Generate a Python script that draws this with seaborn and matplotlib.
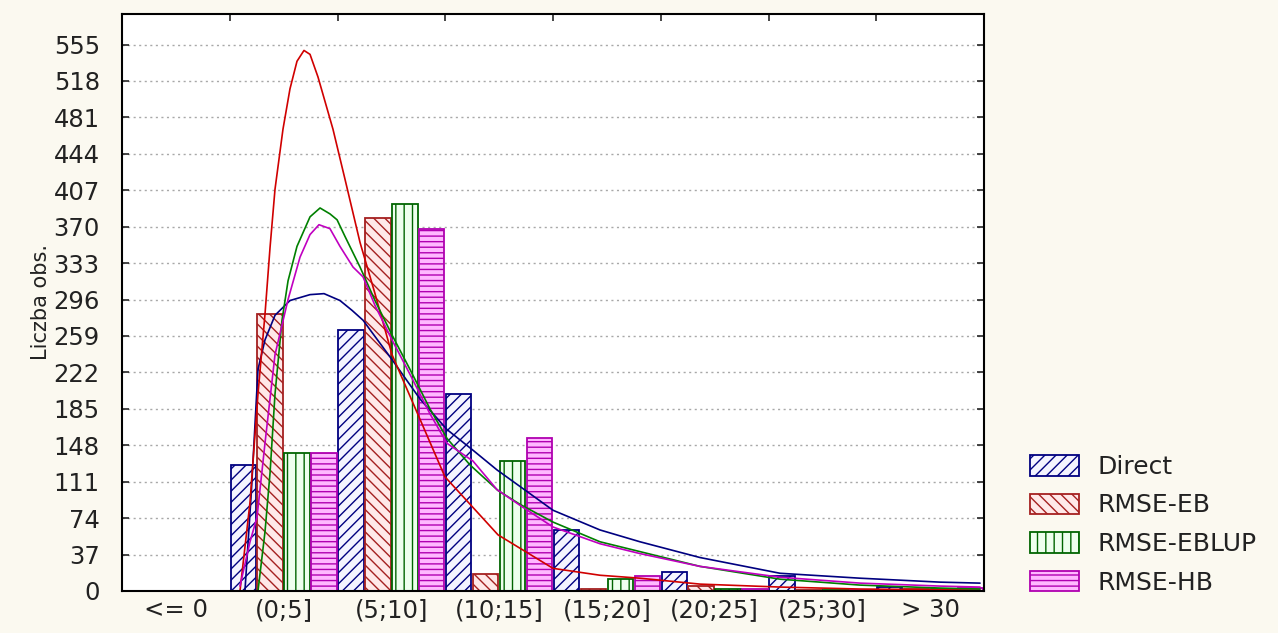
import numpy as np
import pandas as pd
import matplotlib
matplotlib.use("Agg")
import matplotlib.pyplot as plt
import seaborn as sns
from matplotlib.patches import Patch

categories = ["<= 0", "(0;5]", "(5;10]", "(10;15]", "(15;20]", "(20;25]", "(25;30]", "> 30"]
series = ["Direct", "RMSE-EB", "RMSE-EBLUP", "RMSE-HB"]
direct = [0, 128, 265, 200, 62, 19, 15, 4]
eb = [0, 281, 379, 17, 2, 5, 1, 2]
eblup = [0, 140, 393, 132, 12, 2, 1, 2]
hb = [0, 140, 368, 155, 15, 2, 1, 3]

y_ticks = [0, 37, 74, 111, 148, 185, 222, 259, 296, 333, 370, 407, 444, 481, 518, 555]

# fitted curves (x in category units, y in counts)
curve_x_direct = [0.641, 0.70, 0.762, 0.827, 0.920, 1.059, 1.245, 1.375, 1.523, 1.635, 1.737, 2.006, 2.266, 2.516, 2.757, 2.980, 3.500, 3.936, 4.307, 4.864, 5.607, 6.349, 7.092, 7.463]
curve_y_direct = [0, 100, 225, 255, 280, 295, 301, 302, 295, 285, 275, 235, 195, 164, 143, 123, 82, 62, 50, 34, 18, 13, 9, 8]

curve_x_eb = [0.595, 0.688, 0.762, 0.827, 0.874, 0.920, 0.994, 1.059, 1.124, 1.189, 1.245, 1.319, 1.458, 1.570, 1.709, 1.848, 2.006, 2.497, 2.990, 3.500, 3.936, 4.307, 4.864, 5.607, 6.349, 7.463]
curve_y_eb = [0, 90, 200, 281, 349, 408, 469, 510, 538, 549, 545, 522, 469, 418, 354, 302, 240, 116, 57, 23, 16, 13, 7, 4, 2, 1]

curve_x_eblup = [0.762, 0.827, 0.874, 0.920, 0.985, 1.041, 1.124, 1.245, 1.338, 1.430, 1.496, 1.570, 1.709, 1.848, 2.006, 2.173, 2.358, 2.516, 2.730, 2.990, 3.194, 3.500, 3.936, 4.307, 4.864, 5.607, 6.349, 7.092, 7.463]
curve_y_eblup = [0, 60, 120, 200, 275, 315, 350, 380, 389, 383, 377, 360, 329, 295, 260, 225, 185, 155, 128, 102, 88, 70, 50, 40, 25, 12, 6, 3, 2]

curve_x_hb = [0.595, 0.688, 0.753, 0.827, 0.920, 1.041, 1.152, 1.245, 1.328, 1.430, 1.523, 1.644, 1.737, 1.848, 2.006, 2.173, 2.358, 2.516, 2.757, 2.980, 3.221, 3.500, 3.936, 4.307, 4.864, 5.607, 6.349, 7.092, 7.463]
curve_y_hb = [5, 50, 75, 150, 240, 296, 339, 362, 372, 368, 350, 329, 319, 290, 255, 220, 180, 150, 132, 103, 85, 65, 48, 38, 25, 14, 8, 5, 4]

edge_colors = ["#000080", "#A52020", "#006400", "#B000B0"]
face_colors = ["#F4F4FF", "#FFE8E8", "#EEFFEE", "#FFB8FF"]
hatches = ["///", "\\\\\\", "||", "---"]
line_colors = ["#000080", "#D00000", "#008000", "#C000C0"]

sns.set_style("white")
plt.rcParams["font.family"] = ["DejaVu Sans"]
plt.rcParams["hatch.linewidth"] = 1.0

df = pd.DataFrame({
    "cat": categories * 4,
    "series": [s for s in series for _ in categories],
    "value": direct + eb + eblup + hb,
})

fig = plt.figure(figsize=(12.78, 6.33), dpi=100, facecolor="#FBF9F0")
ax = fig.add_axes([122 / 1278, 1 - 591 / 633, (984 - 122) / 1278, (591 - 14) / 633])
ax.set_facecolor("white")

sns.barplot(data=df, x="cat", y="value", hue="series", order=categories,
            hue_order=series, width=1.0, gap=0.06, ax=ax, legend=False,
            errorbar=None, saturation=1)

for i, cont in enumerate(ax.containers):
    for bar in cont:
        bar.set_facecolor(face_colors[i])
        bar.set_edgecolor(edge_colors[i])
        bar.set_hatch(hatches[i])
        bar.set_linewidth(1.3)
        bar.set_zorder(2)

curves = [(curve_x_direct, curve_y_direct), (curve_x_eb, curve_y_eb),
          (curve_x_eblup, curve_y_eblup), (curve_x_hb, curve_y_hb)]
for i, (cx, cy) in enumerate(curves):
    sns.lineplot(x=cx, y=cy, ax=ax, color=line_colors[i], lw=1.2, zorder=3,
                 sort=False, estimator=None)

tick_color = "#222222"
ax.set_xlim(-0.5, 7.5)
ax.set_ylim(0, 586)
ax.set_yticks(y_ticks)
ax.set_yticklabels([str(t) for t in y_ticks], fontsize=17.5, color=tick_color)
ax.set_xticks(range(len(categories)))
ax.set_xticklabels(categories, fontsize=17.5, color=tick_color)
ax.set_xticks(np.arange(0.5, 7.5, 1.0), minor=True)
ax.tick_params(axis="x", which="major", length=0, pad=5)
ax.tick_params(axis="x", which="minor", top=True, bottom=False, direction="in", length=5, width=1.2)
ax.tick_params(axis="y", which="major", left=True, right=True, direction="in", length=5, width=1.2, pad=16)
ax.grid(axis="y", color="#A8A8A8", linestyle=(0, (1.5, 2.5)), linewidth=1.0, zorder=0)
ax.set_axisbelow(True)
for sp in ax.spines.values():
    sp.set_color("black")
    sp.set_linewidth(1.5)
    sp.set_zorder(5)
ax.set_xlabel("")
ax.set_ylabel("Liczba obs.", fontsize=15, color=tick_color)
ax.yaxis.set_label_coords(-0.082, 0.5)

handles = [Patch(facecolor=face_colors[i], edgecolor=edge_colors[i], hatch=hatches[i], lw=1.3)
           for i in range(4)]
fig.legend(handles, series, loc="upper left", bbox_to_anchor=(1030 / 1278, 1 - 455 / 633),
           frameon=False, fontsize=18, handlelength=1.95, handleheight=0.9,
           labelspacing=0.58, handletextpad=0.75, borderpad=0, borderaxespad=0,
           labelcolor=tick_color)

fig.savefig("out.png", dpi=100, facecolor=fig.get_facecolor())
